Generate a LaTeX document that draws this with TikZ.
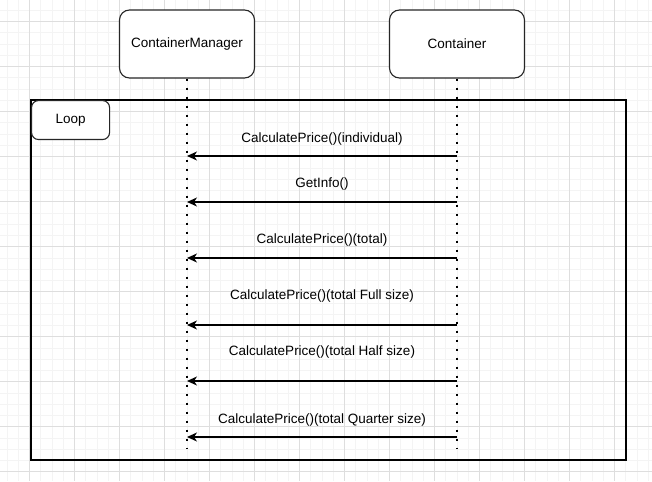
\documentclass[tikz,border=0pt]{standalone}
\usepackage{fontspec}
\setmainfont{Liberation Sans}
\usetikzlibrary{arrows.meta}
\definecolor{gminor}{HTML}{F4F4F4}
\definecolor{gmajor}{HTML}{DEDEDE}
\begin{document}
\begin{tikzpicture}[x=1pt,y=-1pt,
  every node/.style={font=\fontsize{13.5}{16}\selectfont},
  actor/.style={draw=black!85,line width=1.1pt,rounded corners=10pt,minimum width=135pt,minimum height=68pt,fill=white,inner sep=0pt},
  looplbl/.style={draw=black!85,line width=1.1pt,rounded corners=7pt,minimum width=78pt,minimum height=39pt,fill=white,inner sep=0pt},
  lifeline/.style={line width=2.4pt,dash pattern=on 2.4pt off 6.6pt},
  msg/.style={line width=1.3pt,-{Stealth[length=10pt,width=9pt,inset=3pt]}},
  lbl/.style={inner sep=0pt}]
\useasboundingbox (0,0) rectangle (652,481);
\fill[white] (0,0) rectangle (652,481);
% minor grid
\foreach \i in {0,...,58} {
  \draw[gminor,line width=0.9pt] ({7.0+11.25*\i},0) -- ({7.0+11.25*\i},481);
}
\foreach \j in {0,...,43} {
  \draw[gminor,line width=0.9pt] (0,{10.45+11.25*\j}) -- (652,{10.45+11.25*\j});
}
% major grid
\foreach \i in {0,...,14} {
  \draw[gmajor,line width=0.9pt] ({29.5+45*\i},0) -- ({29.5+45*\i},481);
}
\foreach \j in {0,...,10} {
  \draw[gmajor,line width=0.9pt] (0,{21.7+45*\j}) -- (652,{21.7+45*\j});
}
% loop frame
\draw[line width=1.3pt] (31,100) rectangle (626,460);
\node[looplbl,anchor=north west] (loop) at (31,100) {Loop};
% actors
\node[actor] (cm) at (187,44) {ContainerManager};
\node[actor] (c) at (457,44) {Container};
\coordinate (cmend) at (187,448);
\coordinate (cend) at (457,448);
\draw[lifeline] (cm.south) -- (cmend);
\draw[lifeline] (c.south) -- (cend);
% messages
\foreach \y/\t/\ly [count=\k] in {156/{CalculatePrice()(individual)}/139,
  202/{GetInfo()}/184,
  258/{CalculatePrice()(total)}/240,
  325/{CalculatePrice()(total Full size)}/296,
  381/{CalculatePrice()(total Half size)}/352,
  437/{CalculatePrice()(total Quarter size)}/420} {
  \coordinate (s\k) at (457,\y);
  \coordinate (e\k) at (187,\y);
  \draw[msg] (s\k) -- (e\k);
  \node[lbl] (m\k) at (322,\ly) {\t};
}
\end{tikzpicture}
\end{document}
